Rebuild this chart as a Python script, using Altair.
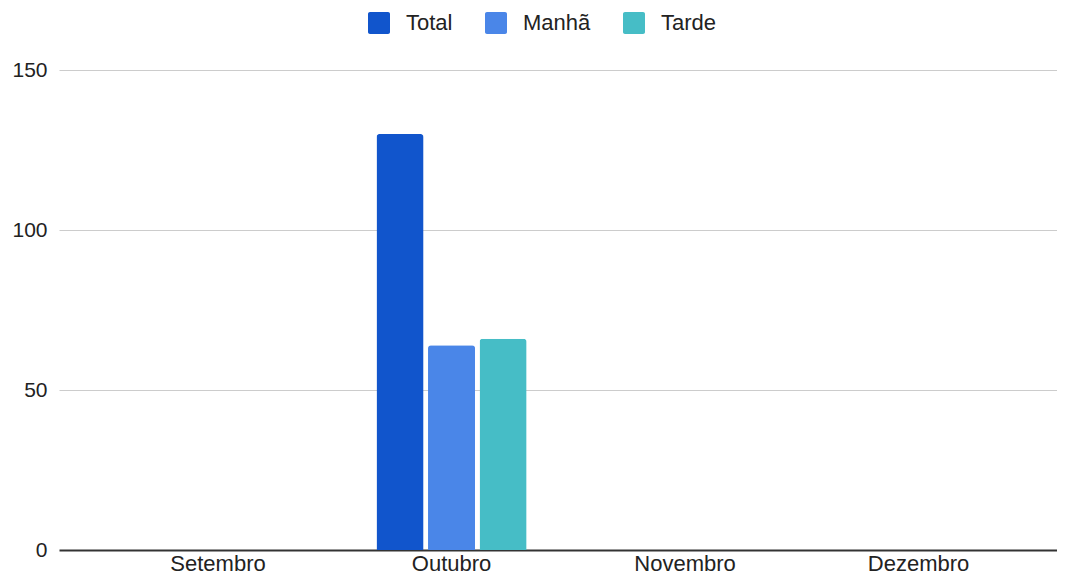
import altair as alt
import pandas as pd

months = ["Setembro", "Outubro", "Novembro", "Dezembro"]
series = ["Total", "Manhã", "Tarde"]
total = [None, 130, None, None]
manha = [None, 64, None, None]
tarde = [None, 66, None, None]
colors = ["#1155cc", "#4a86e8", "#46bdc6"]

rows = []
for name, vals in zip(series, [total, manha, tarde]):
    for m, v in zip(months, vals):
        if v is not None:
            rows.append({"mes": m, "serie": name, "valor": v})
df = pd.DataFrame(rows)

FONT = "Liberation Sans"
rounded = ("M-0.82,-1H0.82A0.18,0.18,0,0,1,1,-0.82V0.82A0.18,0.18,0,0,1,0.82,1"
           "H-0.82A0.18,0.18,0,0,1,-1,0.82V-0.82A0.18,0.18,0,0,1,-0.82,-1Z")

chart = alt.Chart(df).mark_bar(
    cornerRadiusTopLeft=3, cornerRadiusTopRight=3
).encode(
    x=alt.X("mes:N", sort=months, title=None,
            scale=alt.Scale(domain=months, paddingInner=0.338,
                            paddingOuter=0.306, align=0.572),
            axis=alt.Axis(labelAngle=0, domain=False, ticks=False,
                          labelPadding=3, labelFontSize=22,
                          labelFont=FONT, labelColor="#222222")),
    xOffset=alt.XOffset("serie:N", sort=series,
                        scale=alt.Scale(paddingInner=0.087, paddingOuter=0.0435)),
    y=alt.Y("valor:Q", title=None,
            scale=alt.Scale(domain=[0, 150]),
            axis=alt.Axis(values=[0, 50, 100, 150], domain=False, ticks=False,
                          labelPadding=12, labelFontSize=21,
                          labelFont=FONT, labelColor="#222222",
                          gridColor={"condition": {"test": "datum.value === 0", "value": "#333333"},
                                     "value": "#cccccc"},
                          gridWidth={"condition": {"test": "datum.value === 0", "value": 2},
                                     "value": 1})),
    color=alt.Color("serie:N", sort=series, title=None,
                    scale=alt.Scale(domain=series, range=colors),
                    legend=alt.Legend(orient="none", legendX=309, legendY=-58,
                                      direction="horizontal",
                                      symbolType=rounded, symbolSize=484,
                                      symbolStrokeWidth=0,
                                      labelFontSize=22, labelFont=FONT,
                                      labelColor="#222222", labelOffset=16,
                                      columnPadding=32)),
).properties(
    width=998, height=480,
    padding={"left": 51, "top": 62, "right": 0, "bottom": 25},
    autosize=alt.AutoSizeParams(type="none"),
).configure_view(stroke=None)

chart.save("out.html", embed_options={"renderer": "svg", "actions": False})
